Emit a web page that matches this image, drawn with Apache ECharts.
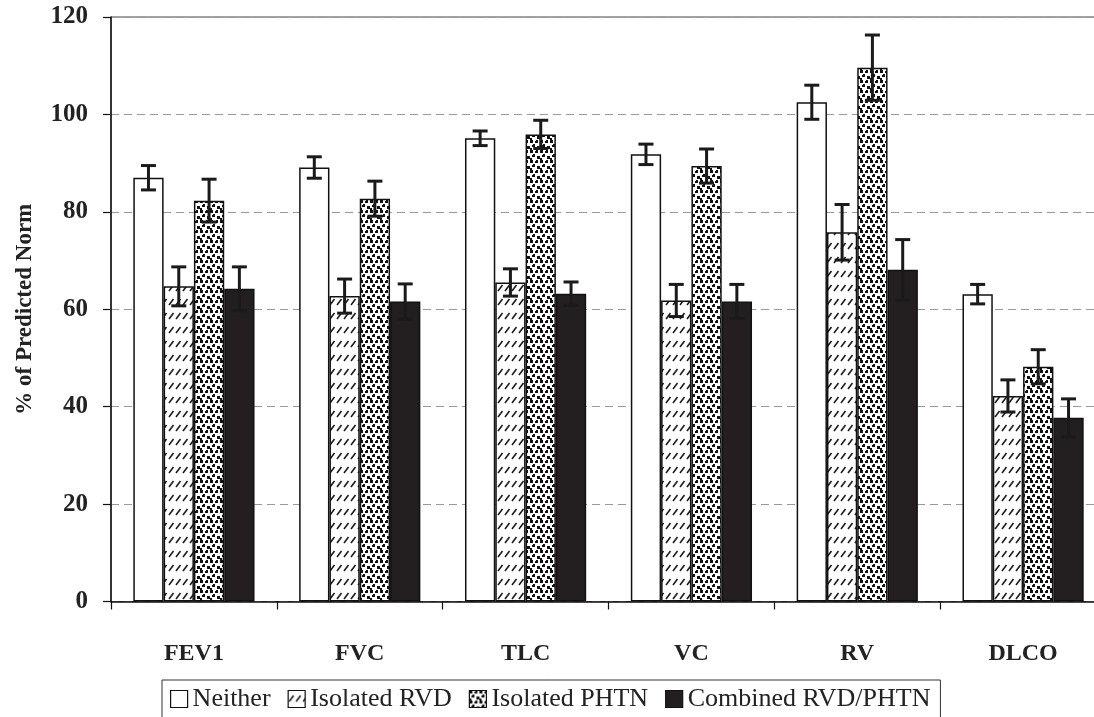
<!DOCTYPE html>
<html>
<head>
<meta charset="utf-8">
<script src="https://cdn.jsdelivr.net/npm/echarts@6/dist/echarts.min.js"></script>
<style>
html,body{margin:0;padding:0;background:#fff;}
#chart{width:1094px;height:717px;}
</style>
</head>
<body>
<div id="chart"></div>
<script>
// ---- data ----
var categories = ['FEV1', 'FVC', 'TLC', 'VC', 'RV', 'DLCO'];
var seriesNames = ['Neither', 'Isolated RVD', 'Isolated PHTN', 'Combined RVD/PHTN'];
var neither      = [87.0, 89.1, 95.1, 91.8, 102.5, 63.1];
var isolatedRVD  = [64.7, 62.7, 65.5, 61.8, 75.8, 42.2];
var isolatedPHTN = [82.3, 82.7, 95.9, 89.4, 109.6, 48.2];
var combined     = [64.2, 61.6, 63.2, 61.6, 68.1, 37.7];
var neitherErr      = [2.5, 2.2, 1.5, 2.1, 3.5, 2.0];
var isolatedRVDErr  = [4.0, 3.5, 2.8, 3.3, 5.7, 3.3];
var isolatedPHTNErr = [4.4, 3.6, 2.9, 3.5, 6.7, 3.5];
var combinedErr     = [4.5, 3.6, 2.4, 3.5, 6.2, 3.9];
var yTicks = [0, 20, 40, 60, 80, 100, 120];

// ---- patterns ----
function makeHatch() {
  var c = document.createElement('canvas');
  c.width = 7; c.height = 14;
  var g = c.getContext('2d');
  g.fillStyle = '#fff'; g.fillRect(0, 0, 7, 14);
  g.strokeStyle = '#1a1a1a'; g.lineWidth = 1.6;
  g.beginPath(); g.moveTo(1.0, 11); g.lineTo(5.5, 5); g.stroke();
  return c;
}
function makeDots() {
  var c = document.createElement('canvas');
  c.width = 10; c.height = 10;
  var g = c.getContext('2d');
  g.fillStyle = '#fff'; g.fillRect(0, 0, 10, 10);
  g.fillStyle = '#111';
  var r = [[0,0,3,3],[5,1,3,2],[6,0,2,3],[2,5,3,2],[3,4,2,3],[7,6,3,3],[0,8,2,2]];
  r.forEach(function (a) { g.fillRect(a[0], a[1], a[2], a[3]); });
  return c;
}
var fills = [
  '#ffffff',
  { image: makeHatch(), repeat: 'repeat' },
  { image: makeDots(), repeat: 'repeat' },
  '#231f20'
];

var values = [neither, isolatedRVD, isolatedPHTN, combined];
var errors = [neitherErr, isolatedRVDErr, isolatedPHTNErr, combinedErr];
var BAR_W = 30.3;
var serif = "'Liberation Serif', 'Times New Roman', serif";

var series = [];
values.forEach(function (vals, i) {
  series.push({
    name: seriesNames[i],
    type: 'bar',
    data: vals,
    barWidth: BAR_W,
    barGap: '0%',
    itemStyle: { color: fills[i], borderColor: '#111', borderWidth: 1.5 },
    emphasis: { disabled: true },
    z: 2
  });
});
values.forEach(function (vals, i) {
  var d = vals.map(function (v, k) { return [k, v, errors[i][k]]; });
  series.push({
    name: seriesNames[i] + ' err',
    type: 'custom',
    data: d,
    z: 5,
    silent: true,
    renderItem: function (params, api) {
      var k = api.value(0), v = api.value(1), e = api.value(2);
      var x = api.coord([k, 0])[0] + (i - 1.5) * BAR_W;
      var yT = api.coord([k, v + e])[1];
      var yB = api.coord([k, v - e])[1];
      var hw = 7.5;
      var st = { stroke: '#1a1a1a', lineWidth: 3 };
      return {
        type: 'group',
        children: [
          { type: 'line', shape: { x1: x, y1: yT, x2: x, y2: yB }, style: st },
          { type: 'line', shape: { x1: x - hw, y1: yT, x2: x + hw, y2: yT }, style: st },
          { type: 'line', shape: { x1: x - hw, y1: yB, x2: x + hw, y2: yB }, style: st }
        ]
      };
    }
  });
});

var chart = echarts.init(document.getElementById('chart'), null, { renderer: 'canvas' });
chart.setOption({
  animation: false,
  backgroundColor: '#fff',
  grid: {
    left: 111, top: 17, width: 995, height: 584.5,
    outerBoundsMode: 'none',
    containLabel: false,
    show: true, borderColor: '#444', borderWidth: 1, backgroundColor: 'transparent'
  },
  legend: {
    data: seriesNames,
    left: 162, top: 680,
    icon: 'rect',
    itemWidth: 17, itemHeight: 17,
    itemGap: 17,
    padding: [6, 10, 10, 8],
    borderColor: '#333', borderWidth: 1,
    itemStyle: { borderColor: '#111', borderWidth: 1.2 },
    textStyle: { fontFamily: serif, fontSize: 26, color: '#222' },
    selectedMode: false
  },
  xAxis: {
    type: 'category',
    data: categories,
    axisLine: { lineStyle: { color: '#111', width: 1.5 } },
    axisTick: { show: true, length: 8, lineStyle: { color: '#111', width: 1.2 } },
    axisLabel: { margin: 40, fontFamily: serif, fontSize: 24, fontWeight: 'bold', color: '#222' },
    splitLine: { show: false }
  },
  yAxis: {
    type: 'value',
    min: yTicks[0], max: yTicks[yTicks.length - 1], interval: 20,
    name: '% of Predicted Norm',
    nameLocation: 'middle',
    nameGap: 74,
    nameTextStyle: { fontFamily: serif, fontSize: 23, fontWeight: 'bold', color: '#222' },
    axisLine: { show: true, lineStyle: { color: '#111', width: 1.5 } },
    axisTick: { show: true, length: 8, lineStyle: { color: '#111', width: 1.2 } },
    axisLabel: { margin: 23, fontFamily: serif, fontSize: 25, fontWeight: 'bold', color: '#222' },
    splitLine: { show: true, lineStyle: { color: '#9a9a9a', width: 1, type: [8, 5] } }
  },
  series: series
});
</script>
</body>
</html>
